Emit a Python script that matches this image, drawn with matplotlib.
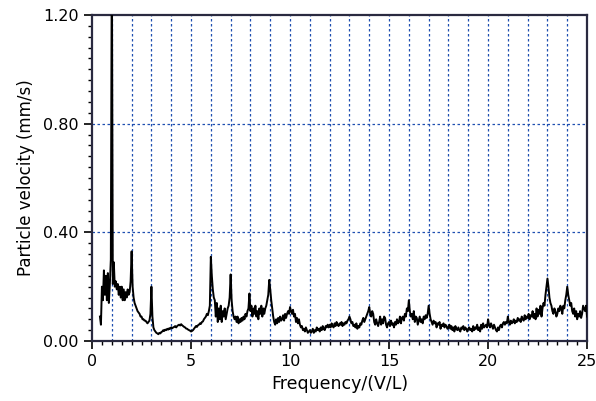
import numpy as np
import matplotlib.pyplot as plt
from matplotlib.ticker import MultipleLocator

# frequency grid (V/L), 0.40 .. 25.00 in steps of 0.05
freq = np.round(np.arange(8, 501) * 0.05, 2)

# particle velocity (mm/s), one row per unit of frequency
vel = [
    # 0.40-0.95
    0.09, 0.06, 0.20, 0.15, 0.26, 0.17, 0.24, 0.15, 0.25, 0.14, 0.21, 0.30,
    # 1
    1.45, 0.21, 0.29, 0.20, 0.22, 0.19, 0.21, 0.17, 0.20, 0.16,
    0.20, 0.15, 0.19, 0.15, 0.18, 0.16, 0.19, 0.17, 0.18, 0.22,
    # 2
    0.33, 0.20, 0.16, 0.14, 0.13, 0.12, 0.11, 0.105, 0.10, 0.09,
    0.09, 0.08, 0.08, 0.075, 0.075, 0.07, 0.065, 0.07, 0.075, 0.10,
    # 3
    0.20, 0.09, 0.05, 0.04, 0.035, 0.03, 0.028, 0.025, 0.03, 0.028,
    0.033, 0.035, 0.04, 0.037, 0.042, 0.04, 0.045, 0.042, 0.047, 0.045,
    # 4
    0.05, 0.047, 0.05, 0.052, 0.055, 0.05, 0.055, 0.058, 0.06, 0.057,
    0.062, 0.058, 0.055, 0.052, 0.05, 0.046, 0.045, 0.042, 0.04, 0.038,
    # 5
    0.035, 0.037, 0.04, 0.045, 0.05, 0.055, 0.052, 0.058, 0.06, 0.065,
    0.063, 0.07, 0.072, 0.08, 0.085, 0.09, 0.10, 0.095, 0.11, 0.13,
    # 6
    0.31, 0.24, 0.19, 0.16, 0.15, 0.09, 0.14, 0.07, 0.12, 0.08,
    0.13, 0.07, 0.11, 0.09, 0.12, 0.08, 0.10, 0.12, 0.13, 0.16,
    # 7
    0.245, 0.15, 0.11, 0.09, 0.08, 0.09, 0.07, 0.09, 0.065, 0.08,
    0.07, 0.085, 0.075, 0.09, 0.08, 0.10, 0.09, 0.11, 0.12, 0.175,
    # 8
    0.11, 0.13, 0.09, 0.12, 0.10, 0.13, 0.09, 0.11, 0.08, 0.12,
    0.10, 0.13, 0.09, 0.12, 0.10, 0.12, 0.13, 0.15, 0.17, 0.225,
    # 9
    0.19, 0.15, 0.12, 0.09, 0.07, 0.06, 0.08, 0.065, 0.085, 0.07,
    0.09, 0.075, 0.08, 0.095, 0.075, 0.10, 0.085, 0.10, 0.11, 0.10,
    # 10
    0.125, 0.11, 0.10, 0.115, 0.09, 0.10, 0.07, 0.085, 0.065, 0.08,
    0.06, 0.05, 0.055, 0.04, 0.045, 0.035, 0.05, 0.04, 0.03, 0.035,
    # 11
    0.04, 0.03, 0.035, 0.045, 0.03, 0.04, 0.035, 0.05, 0.04, 0.045,
    0.035, 0.05, 0.04, 0.055, 0.045, 0.04, 0.055, 0.05, 0.06, 0.05,
    # 12
    0.06, 0.05, 0.065, 0.055, 0.05, 0.065, 0.055, 0.07, 0.06, 0.055,
    0.065, 0.06, 0.07, 0.055, 0.065, 0.06, 0.07, 0.065, 0.075, 0.08,
    # 13
    0.09, 0.08, 0.065, 0.07, 0.055, 0.06, 0.05, 0.065, 0.045, 0.055,
    0.05, 0.065, 0.06, 0.075, 0.085, 0.07, 0.08, 0.09, 0.10, 0.11,
    # 14
    0.125, 0.10, 0.09, 0.11, 0.10, 0.07, 0.06, 0.08, 0.065, 0.055,
    0.07, 0.09, 0.06, 0.08, 0.065, 0.09, 0.085, 0.06, 0.05, 0.065,
    # 15
    0.07, 0.055, 0.075, 0.06, 0.065, 0.05, 0.07, 0.06, 0.08, 0.065,
    0.07, 0.09, 0.065, 0.085, 0.09, 0.075, 0.10, 0.09, 0.12, 0.11,
    # 16
    0.15, 0.11, 0.09, 0.10, 0.08, 0.11, 0.07, 0.09, 0.085, 0.06,
    0.075, 0.09, 0.07, 0.08, 0.065, 0.09, 0.08, 0.095, 0.085, 0.10,
    # 17
    0.13, 0.10, 0.08, 0.07, 0.06, 0.075, 0.065, 0.07, 0.05, 0.065,
    0.06, 0.07, 0.045, 0.06, 0.055, 0.065, 0.05, 0.06, 0.055, 0.045,
    # 18
    0.05, 0.06, 0.045, 0.055, 0.04, 0.05, 0.035, 0.055, 0.045, 0.04,
    0.05, 0.04, 0.035, 0.05, 0.045, 0.055, 0.04, 0.05, 0.045, 0.035,
    # 19
    0.045, 0.05, 0.04, 0.045, 0.035, 0.055, 0.04, 0.05, 0.045, 0.06,
    0.04, 0.05, 0.035, 0.06, 0.045, 0.065, 0.05, 0.055, 0.06, 0.05,
    # 20
    0.08, 0.06, 0.05, 0.065, 0.055, 0.045, 0.06, 0.05, 0.04, 0.035,
    0.05, 0.04, 0.055, 0.06, 0.05, 0.065, 0.07, 0.06, 0.07, 0.065,
    # 21
    0.09, 0.07, 0.06, 0.075, 0.065, 0.07, 0.08, 0.065, 0.075, 0.07,
    0.085, 0.075, 0.08, 0.07, 0.09, 0.08, 0.075, 0.095, 0.08, 0.09,
    # 22
    0.085, 0.10, 0.08, 0.095, 0.09, 0.11, 0.085, 0.10, 0.08, 0.12,
    0.09, 0.115, 0.10, 0.13, 0.09, 0.12, 0.14, 0.13, 0.17, 0.20,
    # 23
    0.23, 0.20, 0.16, 0.14, 0.13, 0.11, 0.10, 0.12, 0.11, 0.09,
    0.10, 0.12, 0.11, 0.13, 0.12, 0.10, 0.13, 0.12, 0.15, 0.17,
    # 24
    0.20, 0.17, 0.15, 0.13, 0.14, 0.11, 0.10, 0.12, 0.09, 0.11,
    0.08, 0.10, 0.09, 0.11, 0.085, 0.10, 0.13, 0.12, 0.11, 0.13,
    # 25
    0.09,
]

x_ticks = [0, 5, 10, 15, 20, 25]
y_ticks = [0.0, 0.4, 0.8, 1.2]
grid_blue = '#1f4fb0'

fig = plt.figure(figsize=(5.96, 4.01), dpi=100)
ax = fig.add_axes([0.1544, 0.1496, 0.8306, 0.813])

# dotted grid: every integer frequency, and the major velocity ticks
for f in range(1, 25):
    ax.axvline(f, color=grid_blue, lw=0.9, ls=(0, (2, 2)), zorder=1)
for v in y_ticks[1:-1]:
    ax.axhline(v, color=grid_blue, lw=0.9, ls=(0, (2, 2)), zorder=1)

ax.plot(freq, vel, color='black', lw=1.4, zorder=3)

ax.set_xlim(0, 25)
ax.set_ylim(0, 1.2)
ax.set_xticks(x_ticks)
ax.set_yticks(y_ticks)
ax.set_yticklabels(['%.2f' % v for v in y_ticks])
ax.xaxis.set_minor_locator(MultipleLocator(0.5))
ax.yaxis.set_minor_locator(MultipleLocator(0.04))
ax.tick_params(which='major', direction='out', length=6, width=1.2, labelsize=11.5, colors='black')
ax.tick_params(which='minor', direction='out', length=3, width=1.0)
ax.tick_params(axis='x', pad=3)

for s in ax.spines.values():
    s.set_linewidth(1.6)
    s.set_color('#2a2a40')

ax.set_xlabel('Frequency/(V/L)', fontsize=12.5, labelpad=5)
ax.set_ylabel('Particle velocity (mm/s)', fontsize=12, labelpad=6)

fig.savefig('out.png', dpi=100)
